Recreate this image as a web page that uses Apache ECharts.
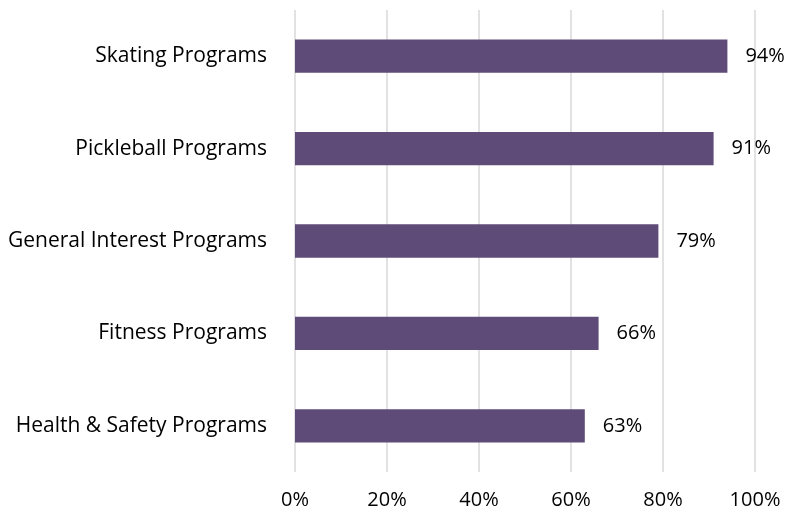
<!DOCTYPE html>
<html>
<head>
<meta charset="utf-8">
<script src="https://cdn.jsdelivr.net/npm/echarts@6/dist/echarts.min.js"></script>
<style>
html, body { margin: 0; padding: 0; background: #fff; }
#chart { width: 786px; height: 515px; }
</style>
</head>
<body>
<div id="chart"></div>
<script>
// top to bottom order as shown
var categories = ['Skating Programs', 'Pickleball Programs', 'General Interest Programs', 'Fitness Programs', 'Health & Safety Programs'];
var values = [94, 91, 79, 66, 63];
var tickValues = [0, 20, 40, 60, 80, 100];

var font = '"Open Sans", "Noto Sans", sans-serif';
var myChart = echarts.init(document.getElementById('chart'));
myChart.setOption({
    animation: false,
    grid: { left: 295, right: 31, top: 10, bottom: 43 },
    xAxis: {
        type: 'value',
        min: 0,
        max: 100,
        interval: 20,
        axisLine: { show: false },
        axisTick: { show: false },
        splitLine: { lineStyle: { color: '#d9d9d9', width: 1.5 } },
        axisLabel: {
            margin: 18,
            color: '#000',
            fontSize: 20,
            fontFamily: font,
            formatter: function (v) { return tickValues.indexOf(v) >= 0 ? v + '%' : ''; }
        }
    },
    yAxis: {
        type: 'category',
        inverse: true,
        data: categories,
        axisLine: { show: false },
        axisTick: { show: false },
        axisLabel: { margin: 28, color: '#000', fontSize: 21, fontFamily: font }
    },
    series: [{
        type: 'bar',
        data: values,
        barWidth: '36%',
        itemStyle: { color: '#5f4b78' },
        label: {
            show: true,
            position: 'right',
            distance: 18,
            color: '#000',
            fontSize: 20,
            fontFamily: font,
            formatter: '{c}%'
        }
    }]
});
</script>
</body>
</html>
